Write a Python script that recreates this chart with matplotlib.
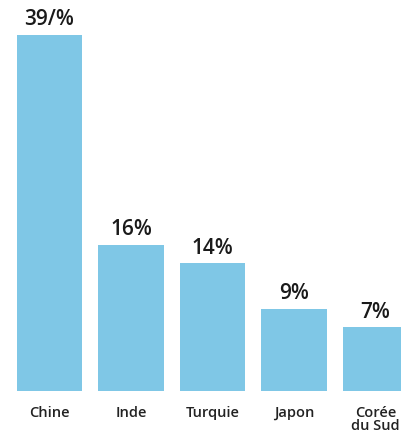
import matplotlib.pyplot as plt

# data
countries = ["Chine", "Inde", "Turquie", "Japon", "Corée\ndu Sud"]
values = [39, 16, 14, 9, 7]
value_labels = ["39/%", "16%", "14%", "9%", "7%"]

BAR_COLOR = "#7fc7e6"
W, H = 402, 435

fig = plt.figure(figsize=(W / 100, H / 100), dpi=100)
# axes from top of figure down to bar baseline (y=392 px)
ax = fig.add_axes([0, (H - 392) / H, 1, 392 / H])

x = range(len(countries))
ax.bar(x, values, width=0.80, color=BAR_COLOR)

# 81.5 px per slot, first bar centre at 49.5 px
ax.set_xlim(-49.5 / 81.5, (W - 49.5) / 81.5)
ax.set_ylim(0, 392 / 9.13)

for i, (v, lab) in enumerate(zip(values, value_labels)):
    ax.annotate(lab, (i, v), xytext=(0, 4), textcoords="offset points",
                ha="center", va="bottom", fontsize=15, fontweight="semibold",
                family="Open Sans", color="#1a1a1a")

for i, name in enumerate(countries):
    ax.annotate(name, (i, 0), xytext=(0, -10), textcoords="offset points",
                ha="center", va="top", fontsize=10.5, fontweight="semibold",
                family="Open Sans", color="#222222", linespacing=0.95,
                annotation_clip=False)

ax.axis("off")

fig.savefig("out.png", dpi=100)
